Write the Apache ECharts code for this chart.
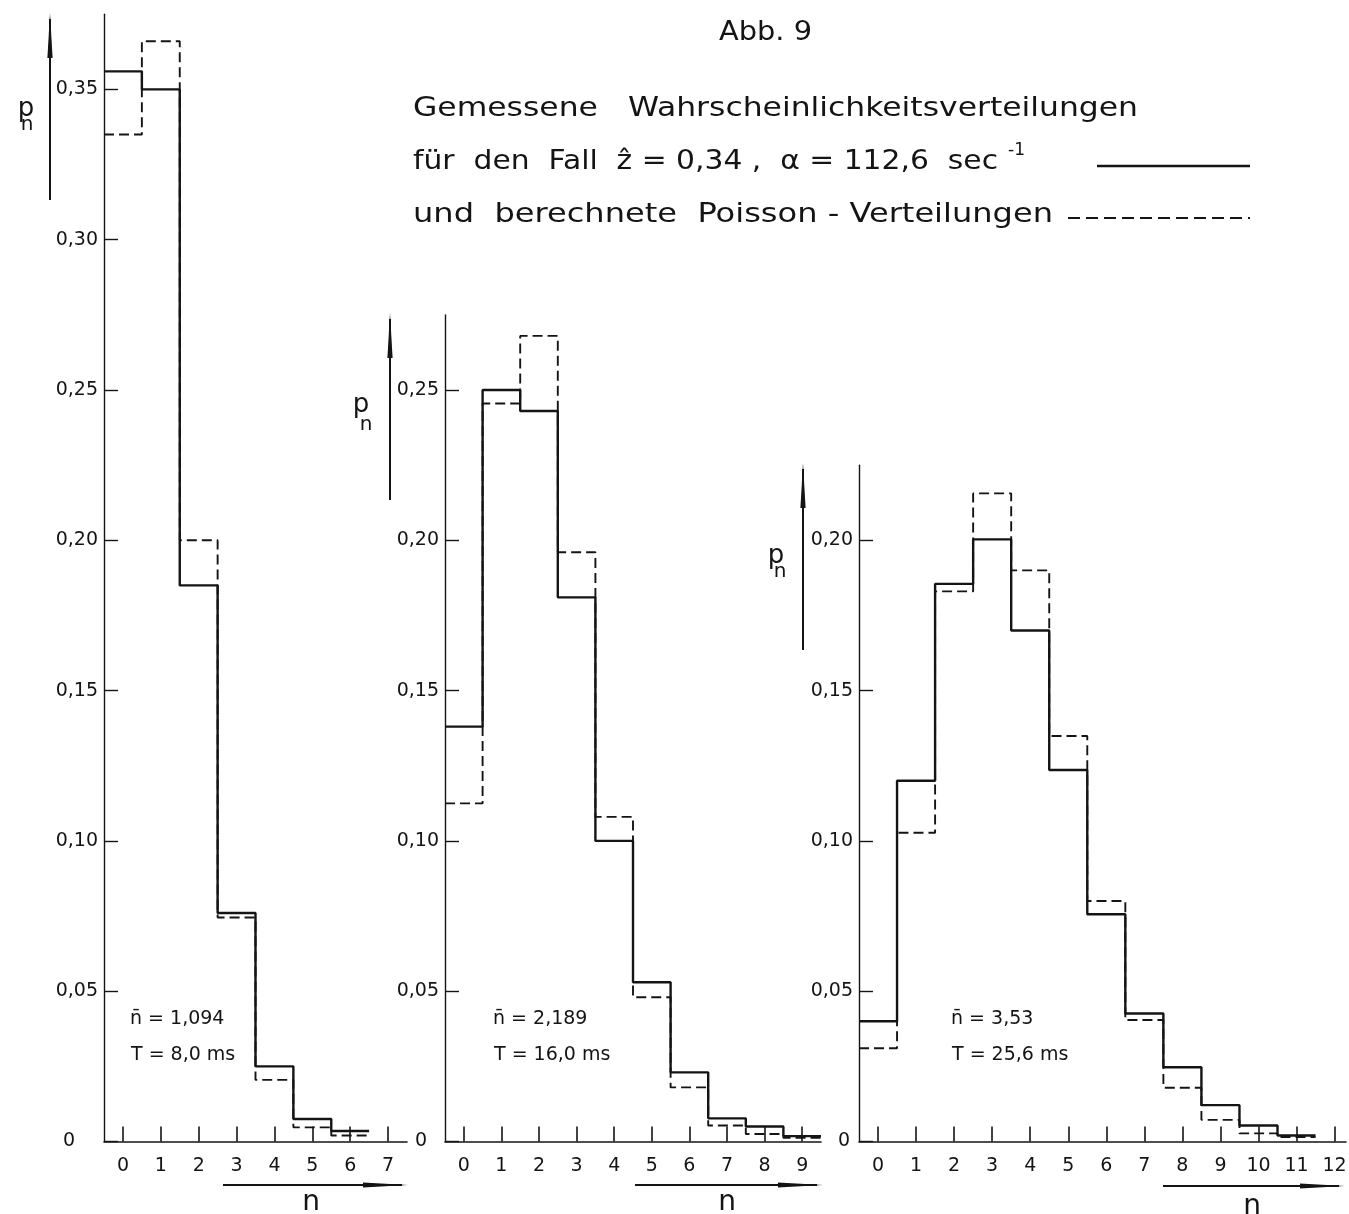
<!DOCTYPE html>
<html><head><meta charset="utf-8">
<style>html,body{margin:0;padding:0;background:#fff}#c{width:1349px;height:1214px}</style>
<script src="https://cdn.jsdelivr.net/npm/echarts@6/dist/echarts.min.js"></script>
</head><body><div id="c"></div>
<script>
// ---------- data ----------
const xTicks1 = [0,1,2,3,4,5,6,7];
const xTicks2 = [0,1,2,3,4,5,6,7,8,9];
const xTicks3 = [0,1,2,3,4,5,6,7,8,9,10,11,12];
const yTicks1 = [0,0.05,0.10,0.15,0.20,0.25,0.30,0.35];
const yTicks2 = [0,0.05,0.10,0.15,0.20,0.25];
const yTicks3 = [0,0.05,0.10,0.15,0.20];

// measured distributions (solid) and Poisson (dashed), n = 0,1,2,...
const measured1 = [0.356,0.350,0.185,0.076,0.025,0.0075,0.0035];
const poisson1  = [0.335,0.366,0.200,0.0745,0.0205,0.0047,0.002];
const measured2 = [0.138,0.250,0.243,0.181,0.100,0.053,0.023,0.0077,0.005,0.0018];
const poisson2  = [0.1125,0.2455,0.268,0.196,0.108,0.048,0.018,0.0053,0.0025,0.0012];
const measured3 = [0.040,0.120,0.1855,0.2003,0.170,0.1236,0.0756,0.0426,0.0247,0.0121,0.0053,0.002];
const poisson3  = [0.031,0.1027,0.183,0.2156,0.190,0.1349,0.080,0.0404,0.0179,0.0072,0.0027,0.0015];

const nbarTexts = ['n\u0304 = 1,094','n\u0304 = 2,189','n\u0304 = 3,53'];
const tTexts = ['T = 8,0 ms','T = 16,0 ms','T = 25,6 ms'];

// ---------- layout ----------
const FONT = 'DejaVu Sans';
const INK = '#141414';
const Y0 = 1141.5, PXU = 3006;
const panels = [
  {left:104, right:407, xMax:7.5, yMax:0.375, xTicks:xTicks1, yTicks:yTicks1, meas:measured1, pois:poisson1, zeroPad:23},
  {left:445, right:821, xMax:9.5, yMax:0.275, xTicks:xTicks2, yTicks:yTicks2, meas:measured2, pois:poisson2, zeroPad:12},
  {left:859, right:1346, xMax:12.3, yMax:0.225, xTicks:xTicks3, yTicks:yTicks3, meas:measured3, pois:poisson3, zeroPad:3}
];

function steps(vals){
  const d = vals.map((v,i)=>[i-0.5, v]);
  d.push([vals.length-0.5, vals[vals.length-1]]);
  return d;
}
function fmtY(v){ return v === 0 ? '{z|0}' : v.toFixed(2).replace('.', ','); }

const grids = [], xAxes = [], yAxes = [], series = [];
panels.forEach((p,k)=>{
  const top = Y0 - p.yMax*PXU;
  grids.push({left:p.left, top:top, width:p.right-p.left, height:Y0-top, containLabel:false, outerBoundsMode:'none'});
  xAxes.push({type:'value', gridIndex:k, min:-0.5, max:p.xMax,
    axisLine:{show:true, onZero:false, lineStyle:{color:INK, width:1.6}},
    axisTick:{show:true, inside:true, length:15, customValues:p.xTicks, lineStyle:{color:INK, width:1.6}},
    axisLabel:{show:true, customValues:p.xTicks, margin:15, fontSize:19, fontFamily:FONT, color:INK, formatter:v=>String(v)},
    splitLine:{show:false}});
  yAxes.push({type:'value', gridIndex:k, min:0, max:p.yMax,
    axisLine:{show:true, onZero:false, lineStyle:{color:INK, width:1.4}},
    axisTick:{show:true, inside:true, length:14, customValues:p.yTicks, lineStyle:{color:INK, width:1.4}},
    axisLabel:{show:true, customValues:p.yTicks, margin:6, fontSize:19, fontFamily:FONT, color:INK, formatter:fmtY,
      rich:{z:{fontSize:19, fontFamily:FONT, color:INK, padding:[0,p.zeroPad,0,0]}}},
    splitLine:{show:false}});
  series.push({type:'line', xAxisIndex:k, yAxisIndex:k, data:steps(p.meas), step:'end', symbol:'none', silent:true,
    lineStyle:{color:INK, width:2.4}});
  series.push({type:'line', xAxisIndex:k, yAxisIndex:k, data:steps(p.pois), step:'end', symbol:'none', silent:true,
    lineStyle:{color:INK, width:1.9, type:[10,5]}});
});

// ---------- text helpers ----------
const mctx = document.createElement('canvas').getContext('2d');
function textW(t, size){ mctx.font = size + 'px "' + FONT + '"'; return mctx.measureText(t).width; }
function fitText(t, x, y, w, size){
  const s = w / textW(t, size);
  return {type:'text', x:x, y:y, scaleX:s, silent:true,
    style:{text:t, x:0, y:0, font:size+'px "'+FONT+'"', fill:INK, textAlign:'left', textVerticalAlign:'middle'}};
}
function txt(t, x, y, size, align){
  return {type:'text', x:x, y:y, silent:true,
    style:{text:t, x:0, y:0, font:size+'px "'+FONT+'"', fill:INK, textAlign:align||'left', textVerticalAlign:'middle'}};
}
function line(x1,y1,x2,y2,w,dash){
  return {type:'line', silent:true, shape:{x1,y1,x2,y2}, style:{stroke:INK, lineWidth:w, lineDash:dash||null}};
}
function vArrow(x, yTop, yBot){
  return [line(x,yTop+6,x,yBot,2),
    {type:'polygon', silent:true, shape:{points:[[x-2.6,yTop+45],[x,yTop],[x+2.6,yTop+45]]}, style:{fill:INK}}];
}
function hArrow(xs, xe, y){
  return [line(xs,y,xe-6,y,2),
    {type:'polygon', silent:true, shape:{points:[[xe-45,y-2.6],[xe,y],[xe-45,y+2.6]]}, style:{fill:INK}}];
}

const graphic = [];
// titles
graphic.push(fitText('Abb. 9', 719, 33, 93, 26));
graphic.push(fitText('Gemessene   Wahrscheinlichkeitsverteilungen', 413, 109, 725, 27));
graphic.push(fitText('für  den  Fall  \u1E91 = 0,34 ,  \u03B1 = 112,6  sec', 413, 162, 585, 27));
graphic.push(txt('-1', 1008, 151, 17));
graphic.push(fitText('und  berechnete  Poisson - Verteilungen', 413, 215, 640, 27));
// legend samples
graphic.push(line(1097,166,1250,166,2.4));
graphic.push(line(1068,218,1250,218,2.2,[12,6]));
// annotations
const annX = [130, 493, 951];
annX.forEach((x,i)=>{
  graphic.push(txt(nbarTexts[i], x, 1019, 19));
  graphic.push(txt(tTexts[i], x+1, 1055, 19));
});
// p_n labels (p centre, n centre)
[[26,109,27,125],[361,405,366,425],[776,556,780,572]].forEach(a=>{
  graphic.push(txt('p', a[0], a[1], 26, 'center'));
  graphic.push(txt('n', a[2], a[3], 20, 'center'));
});
// vertical arrows
graphic.push(...vArrow(50, 13, 200));
graphic.push(...vArrow(390, 313, 500));
graphic.push(...vArrow(803, 463, 650));
// horizontal arrows + n
graphic.push(...hArrow(223, 408, 1185));
graphic.push(...hArrow(635, 823, 1185));
graphic.push(...hArrow(1163, 1345, 1186));
graphic.push(txt('n', 311, 1203, 28, 'center'));
graphic.push(txt('n', 727, 1203, 28, 'center'));
graphic.push(txt('n', 1252, 1207, 28, 'center'));

const chart = echarts.init(document.getElementById('c'), null, {renderer:'canvas', width:1349, height:1214});
chart.setOption({
  backgroundColor:'#ffffff',
  animation:false,
  grid:grids, xAxis:xAxes, yAxis:yAxes, series:series, graphic:graphic
});
</script></body></html>
